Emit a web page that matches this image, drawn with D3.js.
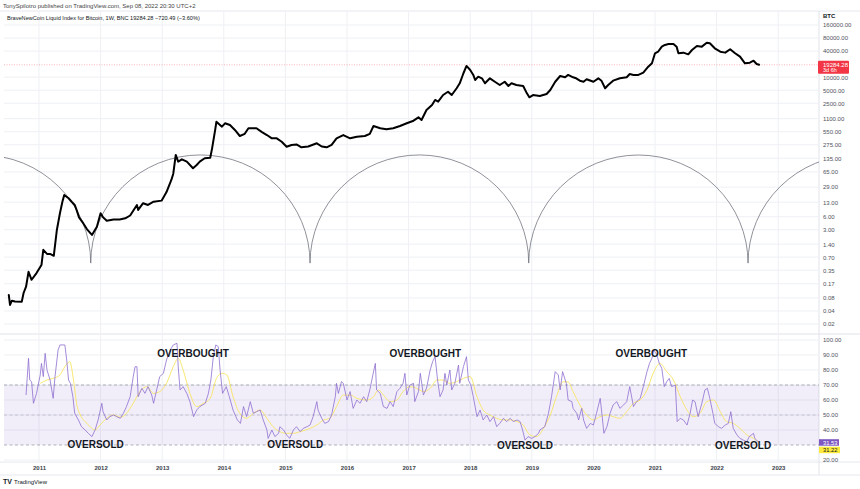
<!DOCTYPE html>
<html><head><meta charset="utf-8">
<script src="https://cdn.jsdelivr.net/npm/d3@7"></script>
<style>
html,body{margin:0;padding:0;background:#fff;}
svg{display:block;font-family:"Liberation Sans",Arial,sans-serif;}
</style>
</head><body>
<svg id="chart" width="860" height="489"></svg>
<script>
// ---------- DATA ----------
const priceYears = [2010.51,2010.53,2010.56,2010.61,2010.72,2010.75,2010.79,2010.83,2010.88,2010.96,
 2011.04,2011.07,2011.13,2011.18,2011.24,2011.29,2011.34,2011.38,2011.41,2011.48,2011.53,2011.58,2011.61,2011.65,2011.72,2011.78,2011.86,2011.94,
 2012.00,2012.04,2012.10,2012.21,2012.31,2012.40,2012.48,2012.59,2012.61,2012.69,2012.77,2012.86,2012.99,
 2013.07,2013.15,2013.18,2013.22,2013.26,2013.32,2013.40,2013.50,2013.56,2013.61,2013.69,2013.78,2013.81,2013.86,2013.88,2013.97,
 2014.02,2014.10,2014.18,2014.26,2014.34,2014.40,2014.53,2014.62,2014.70,2014.78,2014.86,2014.94,
 2015.02,2015.10,2015.18,2015.26,2015.37,2015.51,2015.59,2015.67,2015.75,2015.83,2015.94,
 2016.05,2016.16,2016.29,2016.37,2016.43,2016.54,2016.64,2016.75,2016.86,2016.97,
 2017.08,2017.16,2017.21,2017.29,2017.38,2017.43,2017.48,2017.56,2017.64,2017.70,2017.78,2017.83,2017.89,2017.94,
 2018.00,2018.05,2018.08,2018.13,2018.19,2018.24,2018.32,2018.40,2018.48,2018.56,2018.62,2018.67,2018.75,2018.86,2018.92,2018.96,
 2019.02,2019.13,2019.24,2019.30,2019.38,2019.46,2019.54,2019.59,2019.67,2019.72,2019.78,2019.84,2019.89,
 2020.00,2020.08,2020.13,2020.19,2020.24,2020.32,2020.43,2020.54,2020.59,2020.65,2020.73,2020.81,2020.89,2020.95,
 2021.00,2021.05,2021.11,2021.16,2021.22,2021.30,2021.35,2021.38,2021.46,2021.54,2021.60,2021.68,2021.76,2021.84,2021.89,2021.97,
 2022.06,2022.14,2022.22,2022.30,2022.38,2022.46,2022.54,2022.60,2022.65,2022.69];
const priceValues = [0.093,0.055,0.069,0.066,0.065,0.104,0.145,0.32,0.21,0.30,
 0.46,1.03,0.83,0.83,0.75,2.96,7.2,13.3,19.0,16.0,13.3,11.2,8.6,5.8,4.2,3.07,2.28,3.5,
 7.2,5.8,4.85,5.2,5.2,5.5,6.4,11.2,8.6,12.3,11.2,13.3,14.1,
 22.2,42.9,59,160,112,127,112,79,94,112,134,138,227,604,935,718,
 860,786,604,438,492,661,661,539,461,387,387,323,
 248,272,279,240,251,297,251,240,272,387,461,
 387,421,438,492,744,661,625,661,744,860,
 988,1183,1022,1743,2282,2974,2716,3866,4600,3866,5546,7210,12300,18140,
 14640,11260,8580,10270,9400,7210,9400,7840,6590,7840,6250,7210,6590,6250,4230,3425,
 3866,3680,4090,5060,7840,10640,9930,11260,9930,9400,8290,7840,8940,
 7840,9400,8290,5546,6590,8290,9400,9930,11800,11260,11260,12670,17400,20860,
 35540,38650,50630,55400,58200,58200,50630,35540,36800,33600,42300,52400,50630,62300,60600,46300,
 38650,36800,44000,35540,29700,20860,21600,23950,20150,19284.28];

const rsiYears = [2010.79,2010.83,2010.85,2010.88,2010.91,2010.96,2011.02,2011.04,2011.07,2011.10,2011.13,2011.18,2011.23,2011.26,2011.31,2011.34,2011.39,2011.42,2011.45,2011.48,2011.51,2011.55,2011.58,2011.64,2011.69,2011.75,2011.80,2011.86,2011.91,2011.96,
 2012.02,2012.04,2012.10,2012.15,2012.21,2012.26,2012.32,2012.37,2012.42,2012.48,2012.53,2012.56,2012.59,2012.61,2012.67,2012.72,2012.77,2012.83,2012.86,2012.91,2012.96,
 2013.02,2013.07,2013.13,2013.18,2013.24,2013.26,2013.29,2013.34,2013.40,2013.45,2013.51,2013.56,2013.61,2013.70,2013.75,2013.79,2013.83,2013.87,2013.91,2013.94,2013.98,
 2014.04,2014.09,2014.15,2014.22,2014.27,2014.32,2014.37,2014.43,2014.48,2014.53,2014.59,2014.64,2014.70,2014.72,2014.78,2014.83,2014.89,2014.91,2014.97,
 2015.02,2015.07,2015.13,2015.18,2015.24,2015.29,2015.35,2015.40,2015.45,2015.51,2015.53,2015.59,2015.64,2015.70,2015.75,2015.81,2015.83,2015.86,2015.91,2015.94,
 2016.00,2016.05,2016.10,2016.16,2016.21,2016.27,2016.32,2016.37,2016.42,2016.46,2016.48,2016.54,2016.59,2016.65,2016.70,2016.75,2016.81,2016.86,2016.91,2016.94,2016.97,
 2017.02,2017.08,2017.10,2017.16,2017.19,2017.24,2017.29,2017.35,2017.39,2017.43,2017.47,2017.51,2017.56,2017.59,2017.62,2017.67,2017.70,2017.75,2017.81,2017.83,2017.89,2017.94,2017.97,
 2018.01,2018.05,2018.11,2018.16,2018.21,2018.27,2018.32,2018.38,2018.43,2018.48,2018.54,2018.59,2018.65,2018.70,2018.76,2018.81,2018.85,2018.89,2018.94,
 2019.00,2019.05,2019.11,2019.13,2019.21,2019.27,2019.32,2019.38,2019.43,2019.46,2019.50,2019.56,2019.59,2019.65,2019.67,2019.73,2019.76,2019.81,2019.84,2019.89,2019.95,
 2020.00,2020.05,2020.11,2020.14,2020.17,2020.22,2020.27,2020.32,2020.38,2020.43,2020.49,2020.54,2020.59,2020.65,2020.70,2020.76,2020.81,2020.87,2020.91,2020.95,2020.98,
 2021.03,2021.07,2021.11,2021.15,2021.19,2021.23,2021.27,2021.33,2021.36,2021.41,2021.46,2021.52,2021.57,2021.61,2021.65,2021.70,2021.76,2021.81,2021.85,2021.89,2021.94,2021.97,
 2022.03,2022.08,2022.14,2022.19,2022.23,2022.27,2022.33,2022.38,2022.43,2022.49,2022.53,2022.60,2022.62,2022.65,2022.69];
const rsiValues = [63.3,87.8,73.3,72.2,57.8,64.4,76.7,84.4,75.6,91.1,80,73.3,61.1,75.6,93.3,96.7,96.7,96.7,86.7,73.3,71.1,62.2,51.1,46.7,42.2,40,37.8,35.6,40,46.7,
 57.8,52.2,46.7,48.9,50,48.9,47.8,51.1,55.6,62.2,75.6,82.2,82.2,62.2,67.8,64.4,68.9,63.3,57.8,66.7,75.6,
 77.8,86.7,93.3,96.7,97.8,82.2,66.7,68.9,64.4,58.9,48.9,53.3,55.6,57.8,64.4,73.3,88.9,96.7,95.6,80,64.4,
 68.9,62.2,53.3,46.7,44.4,55.6,48.9,58.9,51.1,52.2,53.3,46.7,40,34.4,40,35.6,37.8,42.2,40,
 36.7,34.4,40,42.2,38.9,41.1,42.2,43.3,48.9,58.9,53.3,47.8,44.4,45.6,50,62.2,71.1,64.4,72.2,71.1,
 60,65.6,54.4,60,57.8,62.2,58.9,66.7,76.7,84.4,66.7,64.4,55.6,54.4,58.9,55.6,65.6,67.8,71.1,77.8,63.3,
 70,71.1,58.9,65.6,77.8,63.3,67.8,80,85.6,88.9,73.3,62.2,66.7,77.8,70,80,66.7,71.1,83.3,71.1,82.2,88.9,73.3,
 70,62.2,48.9,53.3,46.7,50,45.6,48.9,42.2,44.4,47.8,45.6,47.8,45.6,46.7,45.6,40,33.3,35.6,
 34.4,35.6,37.8,40,42.2,51.1,62.2,78.9,76.7,66.7,78.9,71.1,60,58.9,54.4,51.1,46.7,54.4,46.7,41.1,44.4,
 43.3,51.1,61.1,50,37.8,42.2,51.1,56.7,58.9,54.4,56.7,58.9,68.9,55.6,58.9,61.1,68.9,78.9,84.4,87.8,93.3,
 90,84.4,81.1,68.9,72.2,74.4,68.9,70,45.6,47.8,46.7,43.3,51.1,60,58.9,48.9,57.8,66.7,67.8,61.1,51.1,44.4,
 42.2,41.1,43.3,44.4,52.2,41.1,36.7,34.4,33.3,32.2,35.6,37.8,34.4,33.3,31.53];

const maYears = [2011.02,2011.13,2011.23,2011.34,2011.42,2011.50,2011.56,2011.61,2011.67,2011.75,2011.83,2011.91,2011.99,
 2012.10,2012.21,2012.32,2012.42,2012.53,2012.64,2012.75,2012.86,2012.96,
 2013.07,2013.18,2013.26,2013.34,2013.45,2013.56,2013.67,2013.78,2013.88,2013.97,
 2014.05,2014.15,2014.26,2014.37,2014.48,2014.59,2014.70,2014.80,2014.91,
 2015.02,2015.13,2015.24,2015.40,2015.51,2015.62,2015.72,2015.83,2015.94,
 2016.05,2016.16,2016.32,2016.43,2016.51,2016.59,2016.70,2016.81,2016.91,
 2017.02,2017.13,2017.24,2017.35,2017.46,2017.56,2017.67,2017.78,2017.89,
 2018.00,2018.11,2018.21,2018.32,2018.43,2018.54,2018.65,2018.76,2018.86,2018.97,
 2019.08,2019.19,2019.30,2019.40,2019.51,2019.59,2019.67,2019.78,2019.89,
 2020.00,2020.11,2020.22,2020.32,2020.43,2020.54,2020.65,2020.76,2020.87,2020.97,
 2021.08,2021.19,2021.30,2021.41,2021.52,2021.62,2021.73,2021.84,2021.95,
 2022.06,2022.16,2022.27,2022.38,2022.49,2022.60,2022.69];
const maValues = [71.1,73.3,74.4,76.7,82.2,85.6,73.3,57.8,50,45.6,42.2,40,43.3,
 47.8,50,48.5,51.1,57.8,65.6,68.9,64.4,65.6,
 71.1,82.2,87.8,80,64.4,55.6,57.8,61.1,74.4,77.8,
 76.7,62.2,51.1,47.8,51.1,53.3,47.8,42.2,38.9,
 37.8,37.8,38.9,41.1,43.3,46.7,47.8,55.6,63.3,
 63.3,61.1,60,62.2,66.7,63.3,58.9,60,65.6,
 68.9,67.8,65.6,67.8,73.3,73.3,71.1,72.2,74.4,
 75.6,62.2,53.3,50,47.8,46.7,46.7,45.6,43.3,36.7,
 35.6,41.1,50,62.2,72.2,72,65.6,56.7,50,
 46.7,48.9,50,48.9,47.8,52.2,57.8,60,66.7,77.8,
 84.4,78.9,73.3,62.2,53.3,48.9,51.1,58.9,60,
 52.2,45.6,44.4,41.1,36.7,34.4,31.22];

const yearTicks = [2011,2012,2013,2014,2015,2016,2017,2018,2019,2020,2021,2022,2023];
const priceTicks = [160000,80000,40000,10000,5000,2500,1100,550,275,135,65,29,13,6,3,1.4,0.7,0.35,0.17,0.08,0.04,0.02];
const rsiTicks = [100,90,80,70,60,50,40,20];
const rsiBands = [70,50,30];
// cycle lows where the drawn arcs touch down (decimal years) and arc levels (price)
const cycleLows = [2008.29,2011.84,2015.40,2018.95,2022.51,2026.07];
const arcTopPrice = 160, arcBottomPrice = 0.51;
const lastPrice = 19284.28, lastRsi = 31.53, lastMa = 31.22;
const notes = [
  {text:"OVERSOLD",   year:2011.92, rsi:30.4},
  {text:"OVERBOUGHT", year:2013.50, rsi:91.3},
  {text:"OVERSOLD",   year:2015.16, rsi:30.6},
  {text:"OVERBOUGHT", year:2017.27, rsi:91.3},
  {text:"OVERSOLD",   year:2018.89, rsi:30.0},
  {text:"OVERBOUGHT", year:2020.94, rsi:90.7},
  {text:"OVERSOLD",   year:2022.43, rsi:29.5}
];

// ---------- LAYOUT ----------
const plotL = 4, plotR = 819, mainT = 11, mainB = 333, rsiT = 335, rsiB = 462, axisB = 475;
const svg = d3.select("#chart");
const x  = d3.scaleLinear().domain([2010.432, 2023.662]).range([plotL, plotR]);
const yP = d3.scaleLog().domain([0.0124, 336600]).range([mainB, mainT]);
const yR = d3.scaleLinear().domain([18.67, 103.33]).range([rsiB, rsiT]);
const gridC = "#eef0f4";

// header texts
svg.append("text").attr("x",3).attr("y",7.5).attr("font-size",6).attr("fill","#444")
  .text("TonySpilotro published on TradingView.com, Sep 08, 2022 20:30 UTC+2");

// frame lines
svg.append("line").attr("x1",0).attr("x2",860).attr("y1",mainT).attr("y2",mainT).attr("stroke","#e6e8ee");
svg.append("line").attr("x1",0).attr("x2",860).attr("y1",mainB+1).attr("y2",mainB+1).attr("stroke","#e0e3eb");
svg.append("line").attr("x1",0).attr("x2",860).attr("y1",rsiB).attr("y2",rsiB).attr("stroke","#e6e8ee");
svg.append("line").attr("x1",0).attr("x2",860).attr("y1",axisB).attr("y2",axisB).attr("stroke","#e6e8ee");
svg.append("line").attr("x1",plotR).attr("x2",plotR).attr("y1",mainT).attr("y2",axisB).attr("stroke","#e0e3eb");

// grids
const grid = svg.append("g");
grid.selectAll(".vg").data(yearTicks).join("line")
  .attr("x1",d=>x(d)).attr("x2",d=>x(d)).attr("y1",mainT).attr("y2",rsiB).attr("stroke",gridC);
grid.selectAll(".hp").data(priceTicks).join("line")
  .attr("x1",plotL).attr("x2",plotR).attr("y1",d=>yP(d)).attr("y2",d=>yP(d)).attr("stroke",gridC);
grid.selectAll(".hr").data(rsiTicks).join("line")
  .attr("x1",plotL).attr("x2",plotR).attr("y1",d=>yR(d)).attr("y2",d=>yR(d)).attr("stroke",gridC);

// clip paths
const defs = svg.append("defs");
defs.append("clipPath").attr("id","cm").append("rect")
  .attr("x",plotL).attr("y",mainT).attr("width",plotR-plotL).attr("height",mainB-mainT);
defs.append("clipPath").attr("id","cr").append("rect")
  .attr("x",plotL).attr("y",rsiT).attr("width",plotR-plotL).attr("height",rsiB-rsiT);

// legend
svg.append("text").attr("x",7).attr("y",20).attr("font-size",5.6).attr("fill","#131722")
  .text("BraveNewCoin Liquid Index for Bitcoin, 1W, BNC  19284.28  \u2212720.49 (\u22123.60%)");

// last-price dotted line
svg.append("line").attr("x1",plotL).attr("x2",plotR).attr("y1",yP(lastPrice)).attr("y2",yP(lastPrice))
  .attr("stroke","#f23645").attr("stroke-opacity",0.45).attr("stroke-width",0.8).attr("stroke-dasharray","1,1.5");

// arcs
const mainG = svg.append("g").attr("clip-path","url(#cm)");
const yTop = yP(arcTopPrice), yBot = yP(arcBottomPrice);
const arcs = d3.pairs(cycleLows);
mainG.selectAll(".arc").data(arcs).join("path")
  .attr("d", ([a,b]) => {
    const xa = x(a), xb = x(b), rx = (xb-xa)/2, ry = yBot - yTop;
    return `M${xa},${yBot} A${rx},${ry} 0 0 1 ${xb},${yBot}`;
  })
  .attr("fill","none").attr("stroke","#6b6e78").attr("stroke-width",0.75);

// price line
const priceData = priceYears.map((y,i)=>[y,priceValues[i]]);
mainG.append("path").datum(priceData)
  .attr("d", d3.line().x(d=>x(d[0])).y(d=>yP(d[1])))
  .attr("fill","none").attr("stroke","#000").attr("stroke-width",2)
  .attr("stroke-linejoin","round").attr("stroke-linecap","round");

// RSI pane
const rsiG = svg.append("g").attr("clip-path","url(#cr)");
rsiG.append("rect").attr("x",plotL).attr("width",plotR-plotL)
  .attr("y",yR(70)).attr("height",yR(30)-yR(70)).attr("fill","#7e57c2").attr("fill-opacity",0.1);
rsiG.selectAll(".band").data(rsiBands).join("line")
  .attr("x1",plotL).attr("x2",plotR).attr("y1",d=>yR(d)).attr("y2",d=>yR(d))
  .attr("stroke","#787b86").attr("stroke-opacity",d=>d===50?0.45:0.8)
  .attr("stroke-width",0.7).attr("stroke-dasharray","3,2.5");
const rsiData = rsiYears.map((y,i)=>[y,rsiValues[i]]);
const maData = maYears.map((y,i)=>[y,maValues[i]]);
rsiG.append("path").datum(maData)
  .attr("d", d3.line().curve(d3.curveMonotoneX).x(d=>x(d[0])).y(d=>yR(d[1])))
  .attr("fill","none").attr("stroke","#f7e463").attr("stroke-width",0.9);
rsiG.append("path").datum(rsiData)
  .attr("d", d3.line().x(d=>x(d[0])).y(d=>yR(d[1])))
  .attr("fill","none").attr("stroke","#8e6fd1").attr("stroke-width",0.8).attr("stroke-linejoin","round");

// annotations
svg.selectAll(".note").data(notes).join("text")
  .attr("x",d=>x(d.year)).attr("y",d=>yR(d.rsi)).attr("text-anchor","middle").attr("dominant-baseline","central")
  .attr("font-size",10).attr("font-weight","bold").attr("fill","#131722").text(d=>d.text);

// axes
const axP = svg.append("g").attr("transform",`translate(${plotR},0)`)
  .call(d3.axisRight(yP).tickValues(priceTicks).tickSize(0).tickPadding(4).tickFormat(d3.format(".2f")));
const axR = svg.append("g").attr("transform",`translate(${plotR},0)`)
  .call(d3.axisRight(yR).tickValues(rsiTicks).tickSize(0).tickPadding(4).tickFormat(d3.format(".2f")));
const axX = svg.append("g").attr("transform",`translate(0,${rsiB})`)
  .call(d3.axisBottom(x).tickValues(yearTicks).tickSize(0).tickPadding(3.5).tickFormat(d3.format("d")));
[axP,axR,axX].forEach(a=>{ a.select(".domain").remove();
  a.selectAll("text").attr("font-family","Liberation Sans, Arial, sans-serif").attr("font-size",6).attr("fill","#50535e"); });
axX.selectAll("text").attr("font-weight","bold").attr("fill","#3c3f4a");

svg.append("text").attr("x",823).attr("y",18).attr("font-size",6).attr("font-weight","bold").attr("fill","#131722").text("BTC");

// price tag
const py = yP(lastPrice);
svg.append("rect").attr("x",plotR-1).attr("y",py-4).attr("width",31).attr("height",13).attr("rx",1).attr("fill","#f23645");
svg.append("text").attr("x",823).attr("y",py+2).attr("font-size",6).attr("fill","#fff").text(d3.format(".2f")(lastPrice));
svg.append("text").attr("x",823).attr("y",py+7.5).attr("font-size",5.5).attr("fill","#fff").text("3d 6h");

// RSI tags
const ry1 = yR(lastRsi);
svg.append("rect").attr("x",plotR).attr("y",ry1-3.5).attr("width",20).attr("height",6.5).attr("fill","#7e57c2");
svg.append("text").attr("x",823).attr("y",ry1+2).attr("font-size",5.8).attr("fill","#fff").text(d3.format(".2f")(lastRsi));
const ry2 = ry1 + 7.3;
svg.append("rect").attr("x",plotR).attr("y",ry2-3.3).attr("width",21).attr("height",6.5).attr("fill","#ffeb3b");
svg.append("text").attr("x",823).attr("y",ry2+2.2).attr("font-size",5.8).attr("fill","#131722").text(d3.format(".2f")(lastMa));

// TradingView footer
svg.append("text").attr("x",3).attr("y",484).attr("font-size",7).attr("font-weight","bold").attr("fill","#131722").text("TV");
svg.append("text").attr("x",14).attr("y",484).attr("font-size",6).attr("fill","#131722").text("TradingView");
</script>
</body></html>
